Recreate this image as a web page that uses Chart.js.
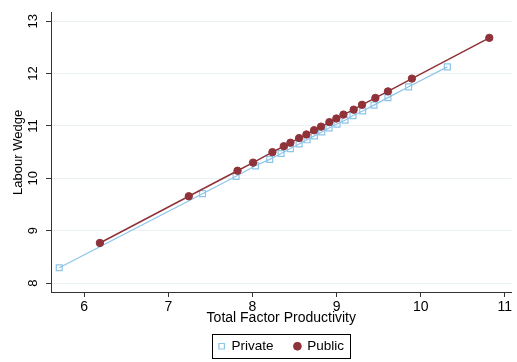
<!DOCTYPE html>
<html lang="en">
<head>
<meta charset="UTF-8">
<title>Labour Wedge vs TFP</title>
<script src="https://cdn.jsdelivr.net/npm/chart.js"></script>
<style>
  body { margin: 0; background: #fff; }
  #wrap { width: 517px; height: 362px; }
</style>
</head>
<body>
<div id="wrap"><canvas id="tfpChart"></canvas></div>

<script>
// values
const privateTfp    = [5.703, 7.406, 7.805, 8.035, 8.205, 8.340, 8.451, 8.554, 8.649, 8.736,
                       8.823, 8.910, 9.005, 9.100, 9.195, 9.310, 9.444, 9.610, 9.856, 10.316];
const privateWedge  = [8.293, 9.707, 10.038, 10.239, 10.362, 10.474, 10.568, 10.656, 10.736, 10.811,
                       10.886, 10.961, 11.036, 11.110, 11.198, 11.286, 11.398, 11.541, 11.747, 12.128];
const publicTfp     = [6.186, 7.243, 7.822, 8.007, 8.237, 8.372, 8.451, 8.554, 8.641, 8.732,
                       8.815, 8.914, 8.997, 9.081, 9.203, 9.302, 9.461, 9.610, 9.895, 10.815];
const publicWedge   = [8.766, 9.658, 10.145, 10.300, 10.500, 10.613, 10.680, 10.768, 10.837, 10.918,
                       10.987, 11.073, 11.142, 11.217, 11.311, 11.404, 11.535, 11.660, 11.904, 12.682];
const xTicks = [6, 7, 8, 9, 10, 11];
const yTicks = [8, 9, 10, 11, 12, 13];

const toPoints = (xs, ys) => xs.map((x, i) => ({ x: x, y: ys[i] }));

const FONT = "'Liberation Sans', Arial, sans-serif";
const AXIS = '#333333';
const BLUE = '#8cc4ea';
const RED = '#8f3239';

// frame round the legend, like the Stata legend box
const legendBox = {
    id: 'legendBox',
    afterDraw(chart) {
        const hb = chart.legend.legendHitBoxes;
        if (!hb || !hb.length) return;
        const last = hb[hb.length - 1];
        const left = hb[0].left - 7;
        const right = last.left + last.width + 6;
        const cy = hb[0].top + hb[0].height / 2;
        const ctx = chart.ctx;
        ctx.save();
        ctx.strokeStyle = '#000';
        ctx.lineWidth = 1;
        ctx.strokeRect(Math.round(left) + 0.5, Math.round(cy - 12) + 0.5, Math.round(right - left), 24);
        ctx.restore();
    }
};

const ctx = document.getElementById('tfpChart').getContext('2d');
const chart = new Chart(ctx, {
    type: 'scatter',
    data: {
        datasets: [{
            label: 'Private',
            data: toPoints(privateTfp, privateWedge),
            showLine: true,
            borderColor: BLUE,
            borderWidth: 1.2,
            pointStyle: 'rect',
            pointRadius: 4.2,
            pointBorderWidth: 1.2,
            pointBackgroundColor: 'rgba(255,255,255,0)',
            pointBorderColor: BLUE,
            order: 1
        }, {
            label: 'Public',
            data: toPoints(publicTfp, publicWedge),
            showLine: true,
            borderColor: RED,
            borderWidth: 1.5,
            pointStyle: 'circle',
            pointRadius: 3.7,
            pointBorderWidth: 1,
            pointBackgroundColor: RED,
            pointBorderColor: RED,
            order: 0
        }]
    },
    options: {
        responsive: true,
        maintainAspectRatio: false,
        animation: false,
        layout: { padding: { left: 0, right: 5, top: 7, bottom: -1 } },
        scales: {
            x: {
                type: 'linear',
                min: 5.605,
                max: 11.08,
                afterBuildTicks: (s) => { s.ticks = xTicks.map(v => ({ value: v })); },
                afterFit: (s) => { s.height = 26.5; },
                grid: { drawOnChartArea: false, tickLength: 5, tickColor: AXIS },
                border: { color: AXIS, width: 1 },
                ticks: { color: '#000', padding: 2, maxRotation: 0, font: { family: FONT, size: 14 } },
                title: {
                    display: true,
                    text: 'Total Factor Productivity',
                    color: '#000',
                    font: { family: FONT, size: 14 },
                    padding: { top: 0, bottom: -8 }
                }
            },
            y: {
                type: 'linear',
                min: 7.83,
                max: 13.16,
                afterBuildTicks: (s) => { s.ticks = yTicks.map(v => ({ value: v })); },
                afterFit: (s) => { s.width = 51; },
                grid: { color: '#e9f1f2', tickLength: 5, tickColor: AXIS },
                border: { color: AXIS, width: 1 },
                ticks: {
                    color: '#000', padding: 5, minRotation: 90, maxRotation: 90,
                    crossAlign: 'center', font: { family: FONT, size: 13 }
                },
                title: {
                    display: true,
                    text: 'Labour Wedge',
                    color: '#000',
                    font: { family: FONT, size: 13 },
                    padding: { top: 11, bottom: 0 }
                }
            }
        },
        plugins: {
            legend: {
                position: 'bottom',
                fullSize: false,
                labels: {
                    usePointStyle: true,
                    boxWidth: 6,
                    boxHeight: 5.5,
                    padding: 21,
                    color: '#000',
                    font: { family: FONT, size: 13.5 },
                    sort: (a, b) => a.datasetIndex - b.datasetIndex
                }
            },
            tooltip: { enabled: false }
        }
    },
    plugins: [legendBox]
});
</script>
</body>
</html>
